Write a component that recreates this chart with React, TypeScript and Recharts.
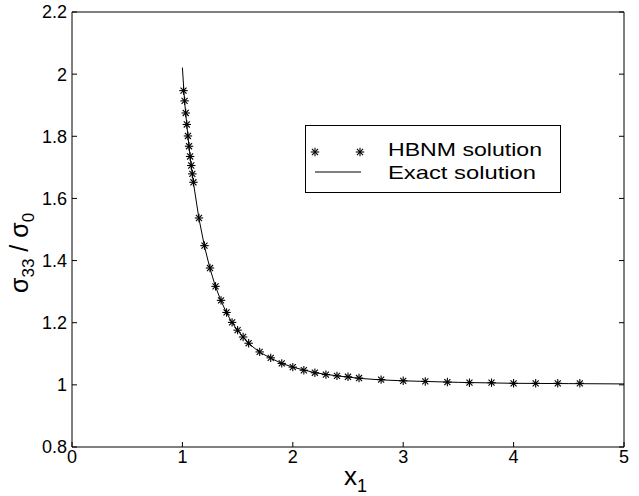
import React from 'react';
import { ComposedChart, Line, Scatter, XAxis, YAxis } from 'recharts';

// HBNM solution (markers)
const hbnmX = [1.01, 1.02, 1.03, 1.04, 1.05, 1.06, 1.07, 1.08, 1.09, 1.10, 1.15, 1.2, 1.25, 1.3, 1.35, 1.4, 1.45, 1.5, 1.55, 1.6, 1.7, 1.8, 1.9, 2.0, 2.1, 2.2, 2.3, 2.4, 2.5, 2.6, 2.8, 3.0, 3.2, 3.4, 3.6, 3.8, 4.0, 4.2, 4.4, 4.6];
const hbnmY = [1.947, 1.914, 1.875, 1.838, 1.801, 1.768, 1.735, 1.706, 1.679, 1.652, 1.537, 1.448, 1.376, 1.317, 1.272, 1.233, 1.201, 1.176, 1.154, 1.134, 1.106, 1.087, 1.069, 1.057, 1.047, 1.039, 1.033, 1.029, 1.026, 1.022, 1.017, 1.013, 1.011, 1.009, 1.007, 1.007, 1.005, 1.005, 1.005, 1.005];

// Exact solution (line)
const exactX = [1.0, 1.02, 1.04, 1.06, 1.08, 1.1, 1.15, 1.2, 1.25, 1.3, 1.35, 1.4, 1.45, 1.5, 1.6, 1.7, 1.8, 1.9, 2.0, 2.2, 2.4, 2.6, 2.8, 3.0, 3.5, 4.0, 4.5, 5.0];
const exactY = [2.021, 1.912, 1.836, 1.766, 1.704, 1.650, 1.535, 1.446, 1.374, 1.316, 1.270, 1.232, 1.200, 1.175, 1.133, 1.105, 1.086, 1.069, 1.057, 1.039, 1.029, 1.021, 1.016, 1.013, 1.008, 1.005, 1.004, 1.003];

const xTicks = [0, 1, 2, 3, 4, 5];
const yTicks = [0.8, 1, 1.2, 1.4, 1.6, 1.8, 2, 2.2];

const hbnmData = hbnmX.map((x, i) => ({ x, y: hbnmY[i] }));
const exactData = exactX.map((x, i) => ({ x, y: exactY[i] }));

const FONT = '"Liberation Sans", Arial, Helvetica, sans-serif';

const Star = (props: any) => {
  const { cx, cy } = props;
  const r = 4.2;
  const d = r * 0.72;
  return (
    <g stroke="#000" strokeWidth={1.1}>
      <line x1={cx - r} y1={cy} x2={cx + r} y2={cy} />
      <line x1={cx} y1={cy - r} x2={cx} y2={cy + r} />
      <line x1={cx - d} y1={cy - d} x2={cx + d} y2={cy + d} />
      <line x1={cx - d} y1={cy + d} x2={cx + d} y2={cy - d} />
    </g>
  );
};

const LegendBox = () => (
  <svg width={257} height={69} style={{ display: 'block' }}>
    <rect x={0.5} y={0.5} width={255} height={67} fill="#fff" stroke="#000" strokeWidth={1} />
    <Star cx={10} cy={27} />
    <Star cx={55} cy={27} />
    <line x1={10} y1={47} x2={56} y2={47} stroke="#000" strokeWidth={1} />
    <text x={83} y={31} fontFamily={FONT} fontSize={19} textLength={154} lengthAdjust="spacingAndGlyphs" fill="#000">HBNM solution</text>
    <text x={83} y={54} fontFamily={FONT} fontSize={19} textLength={148} lengthAdjust="spacingAndGlyphs" fill="#000">Exact solution</text>
  </svg>
);

const XLabel = (props: any) => {
  const vb = props.viewBox || { x: 72, y: 447, width: 552 };
  const x0 = vb.x + vb.width / 2 - 4;
  return (
    <text x={x0} y={485} fontFamily={FONT} fontSize={26} fill="#000">
      x<tspan fontSize={18} dy={7}>1</tspan>
    </text>
  );
};

const YLabel = () => (
  <text transform="rotate(-90)" x={-293} y={28} fontFamily={FONT} fontSize={25} fill="#000">
    σ<tspan fontSize={17} dy={6}>33</tspan>
    <tspan dy={-6}>{'  / σ'}</tspan>
    <tspan fontSize={17} dy={6}>0</tspan>
  </text>
);

export default function App() {
  return (
    <div style={{ position: 'absolute', left: 0, top: 0, width: 639, height: 496, background: '#fff' }}>
      <ComposedChart width={639} height={496} margin={{ top: 0, right: 0, bottom: 0, left: 0 }}>
        <XAxis
          dataKey="x"
          type="number"
          domain={[0, 5]}
          ticks={xTicks}
          allowDataOverflow
          height={49}
          tickSize={-5}
          tickMargin={8}
          stroke="#000"
          tick={{ fill: '#000', fontSize: 18, fontFamily: FONT }}
          label={<XLabel />}
        />
        <XAxis
          xAxisId="top"
          orientation="top"
          type="number"
          domain={[0, 5]}
          ticks={xTicks}
          allowDataOverflow
          height={12}
          tickSize={-5}
          tickFormatter={() => ''}
          stroke="#000"
        />
        <YAxis
          type="number"
          domain={[0.8, 2.2]}
          ticks={yTicks}
          allowDataOverflow
          width={72}
          tickSize={-5}
          tickMargin={10}
          stroke="#000"
          tick={{ fill: '#000', fontSize: 18, fontFamily: FONT }}
          label={<YLabel />}
        />
        <YAxis
          yAxisId="right"
          orientation="right"
          type="number"
          domain={[0.8, 2.2]}
          ticks={yTicks}
          allowDataOverflow
          width={15}
          tickSize={-5}
          tickFormatter={() => ''}
          stroke="#000"
        />
        <Line
          data={exactData}
          dataKey="y"
          type="linear"
          stroke="#000"
          strokeWidth={1}
          dot={false}
          activeDot={false}
          isAnimationActive={false}
          legendType="none"
        />
        <Scatter
          data={hbnmData}
          dataKey="y"
          shape={Star}
          isAnimationActive={false}
          legendType="none"
        />
      </ComposedChart>
      <div style={{ position: 'absolute', left: 305, top: 125 }}>
        <LegendBox />
      </div>
    </div>
  );
}
